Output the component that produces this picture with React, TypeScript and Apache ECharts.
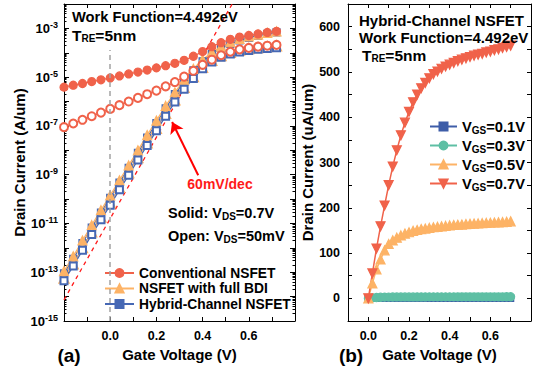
import React, { useEffect, useRef } from 'react';
import * as echarts from 'echarts';

const FONT = '"Liberation Sans", Arial, Helvetica, sans-serif';
const RED = '#F0624A';
const ORANGE = '#FDB366';
const BLUE = '#4668B4';
const TEAL = '#5EBFA4';
const BLUE2 = '#3E5DA8';

// ---------- panel (a): transfer curves ----------
const gateV = [-0.2, -0.16, -0.12, -0.08, -0.04, 0, 0.04, 0.08, 0.12, 0.16, 0.2, 0.24, 0.28, 0.32, 0.36, 0.4, 0.44, 0.48, 0.52, 0.56, 0.6, 0.64, 0.68, 0.72];
const convSolid = [3.9e-6, 4.7e-6, 5.5e-6, 6.6e-6, 7.8e-6, 9.3e-6, 1.12e-5, 1.35e-5, 1.62e-5, 1.95e-5, 2.4e-5, 2.95e-5, 3.7e-5, 4.9e-5, 7.2e-5, 1.12e-4, 1.78e-4, 2.6e-4, 3.55e-4, 4.4e-4, 5.1e-4, 5.9e-4, 6.8e-4, 7.6e-4];
const convOpen = [8.9e-8, 1.26e-7, 1.78e-7, 2.5e-7, 3.5e-7, 5.0e-7, 7.1e-7, 1.0e-6, 1.41e-6, 2.0e-6, 2.8e-6, 4.2e-6, 6.3e-6, 1.05e-5, 1.82e-5, 3.2e-5, 5.2e-5, 7.9e-5, 1.1e-4, 1.38e-4, 1.58e-4, 1.78e-4, 1.95e-4, 2.1e-4];
const bdiSolid = [1.12e-13, 4.5e-13, 2.0e-12, 8.5e-12, 3.5e-11, 1.41e-10, 5.9e-10, 2.4e-9, 1.0e-8, 4.2e-8, 1.66e-7, 6.6e-7, 2.4e-6, 7.6e-6, 2.2e-5, 5.2e-5, 1.05e-4, 1.78e-4, 2.7e-4, 3.7e-4, 4.7e-4, 5.6e-4, 6.6e-4, 7.6e-4];
const bdiOpen = [5.6e-14, 2.2e-13, 1.0e-12, 4.5e-12, 1.78e-11, 7.1e-11, 3.0e-10, 1.2e-9, 5.0e-9, 2.0e-8, 7.9e-8, 3.2e-7, 1.17e-6, 3.8e-6, 1.05e-5, 2.5e-5, 4.8e-5, 7.6e-5, 1.02e-4, 1.26e-4, 1.45e-4, 1.62e-4, 1.78e-4, 1.9e-4];
const hybSolid = [8.9e-14, 3.5e-13, 1.58e-12, 6.8e-12, 2.8e-11, 1.12e-10, 4.7e-10, 1.9e-9, 7.9e-9, 3.3e-8, 1.32e-7, 5.2e-7, 2.0e-6, 6.6e-6, 1.9e-5, 4.5e-5, 8.9e-5, 1.51e-4, 2.3e-4, 3.2e-4, 4.1e-4, 5.0e-4, 6.0e-4, 6.9e-4];
const hybOpen = [4.5e-14, 1.78e-13, 7.9e-13, 3.5e-12, 1.41e-11, 5.6e-11, 2.4e-10, 9.5e-10, 4.0e-9, 1.58e-8, 6.3e-8, 2.5e-7, 9.5e-7, 3.2e-6, 8.9e-6, 2.2e-5, 4.2e-5, 6.6e-5, 8.9e-5, 1.07e-4, 1.23e-4, 1.38e-4, 1.51e-4, 1.62e-4];
// 60 mV/dec guide line end points
const refX = [-0.2, 0.6];
const refY = [7.4e-15, 0.158];
// arrow pointing to the curve (tail -> head)
const arrowX = [0.381, 0.268];
const arrowY = [9.5e-10, 1.45e-7];
// grey V=0 guide (bottom -> top)
const zeroGuideY = [1e-15, 1.3e-4];

const logLabelValues = [1e-15, 1e-13, 1e-11, 1e-9, 1e-7, 1e-5, 1e-3];
const logDecades = [1e-15, 1e-14, 1e-13, 1e-12, 1e-11, 1e-10, 1e-9, 1e-8, 1e-7, 1e-6, 1e-5, 1e-4, 1e-3, 1e-2];
const logMinor: number[] = [];
logDecades.slice(0, -1).forEach((d) => {
  for (let k = 2; k <= 9; k++) logMinor.push(k * d);
});

// ---------- panel (b): output curves ----------
const drainV = [0, 0.02, 0.04, 0.06, 0.08, 0.1, 0.12, 0.14, 0.16, 0.18, 0.2, 0.22, 0.24, 0.26, 0.28, 0.3, 0.32, 0.34, 0.36, 0.38, 0.4, 0.42, 0.44, 0.46, 0.48, 0.5, 0.52, 0.54, 0.56, 0.58, 0.6, 0.62, 0.64, 0.66, 0.68, 0.7];
const vgs01 = [0, 0.02, 0.03, 0.04, 0.04, 0.05, 0.05, 0.05, 0.05, 0.05, 0.05, 0.05, 0.05, 0.05, 0.05, 0.05, 0.05, 0.05, 0.05, 0.05, 0.05, 0.05, 0.05, 0.05, 0.05, 0.05, 0.05, 0.05, 0.05, 0.05, 0.05, 0.05, 0.05, 0.05, 0.05, 0.05];
const vgs03 = [0, 1.1, 1.9, 2.4, 2.7, 2.9, 3.0, 3.05, 3.1, 3.1, 3.15, 3.15, 3.2, 3.2, 3.2, 3.25, 3.25, 3.25, 3.3, 3.3, 3.3, 3.3, 3.35, 3.35, 3.35, 3.35, 3.4, 3.4, 3.4, 3.4, 3.45, 3.45, 3.45, 3.45, 3.5, 3.5];
const vgs05 = [0, 33, 64, 86, 106, 120, 128, 134, 139, 143, 146, 149, 151, 153, 154, 155.5, 157, 158, 159, 160, 161, 162, 162.5, 163, 164, 164.5, 165, 165.5, 166, 166.5, 167, 167.5, 168, 168.5, 169, 170];
const vgs07 = [0, 55, 110, 159, 205, 250, 291, 327, 360, 388, 412, 433, 450, 464, 476, 486, 495, 501, 507, 512, 516, 520, 524, 527, 530, 533, 536, 538, 540, 543, 545, 548, 550, 553, 555, 558];

const zip = (xs: number[], ys: number[]) => xs.map((x, i) => [x, ys[i]]);

const axisLineStyle = { show: true, onZero: false, lineStyle: { color: '#000', width: 1 } };
const boldLabel = { fontFamily: FONT, fontWeight: 'bold' as const, fontSize: 12.5, color: '#000' };
const nameStyle = { fontFamily: FONT, fontWeight: 'bold' as const, fontSize: 15, color: '#000' };

const tenths = (lo: number, hi: number) => (v: number) => {
  const n = Math.round(v * 10);
  return n % 2 === 0 && n >= lo && n <= hi ? (n / 10).toFixed(1) : '';
};

function buildOption(): any {
  const xA = (grid: number, min: number, max: number, pos: 'top' | 'bottom') => ({
    gridIndex: grid,
    type: 'value',
    min,
    max,
    interval: 0.1,
    position: pos,
    axisLine: axisLineStyle,
    axisTick: { inside: true, length: 4, lineStyle: { color: '#000', width: 1 } },
    axisLabel: pos === 'bottom' ? { ...boldLabel, margin: 8, formatter: tenths(0, 6) } : { show: false },
    splitLine: { show: false },
    ...(pos === 'bottom'
      ? { name: 'Gate Voltage (V)', nameLocation: 'middle', nameGap: 26, nameTextStyle: nameStyle }
      : {}),
  });

  const logAxis = (pos: 'left' | 'right', minor: boolean) => ({
    gridIndex: 0,
    type: 'log',
    logBase: 10,
    min: 1e-15,
    max: 1e-2,
    position: pos,
    axisLine: minor ? { show: false, onZero: false } : axisLineStyle,
    axisTick: {
      inside: true,
      length: minor ? 2.5 : 5,
      customValues: minor ? logMinor : logDecades,
      lineStyle: { color: '#000', width: 1 },
    },
    axisLabel:
      pos === 'left' && !minor
        ? {
            ...boldLabel,
            fontSize: 13,
            margin: 6,
            customValues: logLabelValues,
            formatter: (v: number) => `10{sup|${Math.round(Math.log10(v))}}`,
            rich: { sup: { fontFamily: FONT, fontWeight: 'bold', fontSize: 9, color: '#000', padding: [0, 0, 7, 0] } },
          }
        : { show: false },
    splitLine: { show: false },
    ...(pos === 'left' && !minor
      ? { name: 'Drain Current (A/um)', nameLocation: 'middle', nameGap: 36, nameTextStyle: nameStyle }
      : {}),
  });

  const linAxis = (pos: 'left' | 'right') => ({
    gridIndex: 1,
    type: 'value',
    min: -50,
    max: 650,
    interval: 50,
    position: pos,
    axisLine: axisLineStyle,
    axisTick: { inside: true, length: 4, lineStyle: { color: '#000', width: 1 } },
    axisLabel:
      pos === 'left'
        ? {
            ...boldLabel,
            margin: 8,
            formatter: (v: number) => (Math.round(v) % 100 === 0 && v >= 0 && v <= 600 ? String(Math.round(v)) : ''),
          }
        : { show: false },
    splitLine: { show: false },
    ...(pos === 'left'
      ? { name: 'Drain Current (uA/um)', nameLocation: 'middle', nameGap: 29, nameTextStyle: nameStyle }
      : {}),
  });

  const lineSeries = (name: string, xs: number[], ys: number[], color: string, symbol: string, size: number, extra: any = {}) => ({
    name,
    type: 'line',
    data: zip(xs, ys),
    symbol,
    symbolSize: size,
    showAllSymbol: true,
    itemStyle: { color, borderColor: color, borderWidth: 1.2 },
    lineStyle: { color, width: 1.3 },
    emphasis: { disabled: true },
    ...extra,
  });

  const txt = (x: number, y: number, text: string, rich?: any, extra: any = {}) => ({
    type: 'text',
    x,
    y,
    silent: true,
    z: 100,
    style: {
      text,
      fill: '#000',
      fontFamily: FONT,
      fontWeight: 'bold',
      fontSize: 14.7,
      verticalAlign: 'middle',
      ...(rich ? { rich } : {}),
      ...extra,
    },
  });

  const subRich = (main: number) => ({
    a: { fontFamily: FONT, fontWeight: 'bold', fontSize: main, fill: '#000' },
    s: { fontFamily: FONT, fontWeight: 'bold', fontSize: 10, fill: '#000', padding: [7, 0, 0, 0] },
  });

  return {
    animation: false,
    textStyle: { fontFamily: FONT },
    grid: [
      { left: 64, top: 4, width: 231, height: 317 },
      { left: 348, top: 4, width: 183, height: 317 },
    ],
    xAxis: [xA(0, -0.2, 0.8, 'bottom'), xA(0, -0.2, 0.8, 'top'), xA(1, -0.1, 0.8, 'bottom'), xA(1, -0.1, 0.8, 'top')],
    yAxis: [logAxis('left', false), logAxis('left', true), logAxis('right', false), logAxis('right', true), linAxis('left'), linAxis('right')],
    legend: [
      {
        data: ['Conventional NSFET', 'NSFET with full BDI', 'Hybrid-Channel NSFET'],
        orient: 'vertical',
        left: 104,
        top: 266,
        padding: 0,
        itemWidth: 29,
        itemHeight: 10,
        itemGap: 1.5,
        selectedMode: false,
        textStyle: { fontFamily: FONT, fontWeight: 'bold', fontSize: 13.8, color: '#000', lineHeight: 14 },
      },
      {
        data: ['VGS=0.1V', 'VGS=0.3V', 'VGS=0.5V', 'VGS=0.7V'],
        orient: 'vertical',
        left: 429,
        top: 119,
        padding: 0,
        itemWidth: 27,
        itemHeight: 10,
        itemGap: 3,
        selectedMode: false,
        formatter: (n: string) => `{b|V}{s|GS}{b|${n.slice(3)}}`,
        textStyle: {
          fontFamily: FONT,
          fontWeight: 'bold',
          fontSize: 14.7,
          color: '#000',
          rich: {
            b: { fontFamily: FONT, fontWeight: 'bold', fontSize: 14.7, color: '#000', lineHeight: 17 },
            s: { fontFamily: FONT, fontWeight: 'bold', fontSize: 10, color: '#000', padding: [7, 0, 0, 0] },
          },
        },
      },
    ],
    series: [
      lineSeries('Hybrid-Channel NSFET', gateV, hybSolid, BLUE, 'rect', 7, {
        xAxisIndex: 0,
        yAxisIndex: 0,
        markLine: {
          silent: true,
          symbol: 'none',
          label: { show: false },
          lineStyle: { color: '#A3A3A3', type: [5, 4], width: 1.5 },
          data: [[{ coord: [0, zeroGuideY[0]] }, { coord: [0, zeroGuideY[1]] }]],
        },
      }),
      lineSeries('NSFET with full BDI', gateV, bdiSolid, ORANGE, 'triangle', 9, { xAxisIndex: 0, yAxisIndex: 0 }),
      lineSeries('bdi-open', gateV, bdiOpen, ORANGE, 'emptyTriangle', 9, { xAxisIndex: 0, yAxisIndex: 0 }),
      lineSeries('hyb-open', gateV, hybOpen, BLUE, 'emptyRect', 7, { xAxisIndex: 0, yAxisIndex: 0 }),
      lineSeries('conv-open', gateV, convOpen, RED, 'emptyCircle', 8, { xAxisIndex: 0, yAxisIndex: 0 }),
      lineSeries('Conventional NSFET', gateV, convSolid, RED, 'circle', 8, { xAxisIndex: 0, yAxisIndex: 0 }),
      {
        name: '60mV/dec',
        type: 'line',
        xAxisIndex: 0,
        yAxisIndex: 0,
        data: zip(refX, refY),
        symbol: 'none',
        clip: true,
        lineStyle: { color: '#FF1A1A', width: 1.3, type: [4, 4] },
        emphasis: { disabled: true },
        markLine: {
          silent: true,
          symbol: ['none', 'arrow'],
          symbolSize: 11,
          label: { show: false },
          lineStyle: { color: '#FF0000', width: 2, type: 'solid' },
          data: [[{ coord: [arrowX[0], arrowY[0]] }, { coord: [arrowX[1], arrowY[1]] }]],
        },
      },
      lineSeries('VGS=0.1V', drainV, vgs01, BLUE2, 'rect', 6, { xAxisIndex: 2, yAxisIndex: 4, lineStyle: { color: BLUE2, width: 1.5 } }),
      lineSeries('VGS=0.3V', drainV, vgs03, TEAL, 'circle', 8, { xAxisIndex: 2, yAxisIndex: 4, lineStyle: { color: TEAL, width: 1.5 } }),
      lineSeries('VGS=0.5V', drainV, vgs05, ORANGE, 'triangle', 9, { xAxisIndex: 2, yAxisIndex: 4, lineStyle: { color: ORANGE, width: 1.5 } }),
      lineSeries('VGS=0.7V', drainV, vgs07, RED, 'triangle', 9, {
        xAxisIndex: 2,
        yAxisIndex: 4,
        symbolRotate: 180,
        lineStyle: { color: RED, width: 1.5 },
      }),
    ],
    graphic: [
      txt(72, 17, 'Work Function=4.492eV'),
      txt(72, 35, '{a|T}{s|RE}{a|=5nm}', subRich(15.5)),
      txt(220, 184, '60mV/dec', undefined, { fill: '#FF1A1A', align: 'center', fontSize: 14 }),
      txt(168, 213, '{a|Solid: V}{s|DS}{a|=0.7V}', subRich(14.5)),
      txt(168, 236, '{a|Open: V}{s|DS}{a|=50mV}', subRich(14.5)),
      txt(359, 20, 'Hybrid-Channel NSFET', undefined, { fontSize: 15 }),
      txt(359, 37, 'Work Function=4.492eV', undefined, { fontSize: 15 }),
      txt(362, 55, '{a|T}{s|RE}{a|=5nm}', subRich(15.5)),
      txt(69, 355, '(a)', undefined, { fontSize: 19, align: 'center' }),
      txt(351, 355, '(b)', undefined, { fontSize: 19, align: 'center' }),
    ],
  };
}

export default function App() {
  const ref = useRef<HTMLDivElement>(null);
  useEffect(() => {
    if (!ref.current) return;
    const chart = echarts.init(ref.current, undefined, { renderer: 'svg' });
    chart.setOption(buildOption());
    return () => chart.dispose();
  }, []);
  return <div ref={ref} style={{ width: 534, height: 376, position: 'absolute', left: 0, top: 0, background: '#fff' }} />;
}
